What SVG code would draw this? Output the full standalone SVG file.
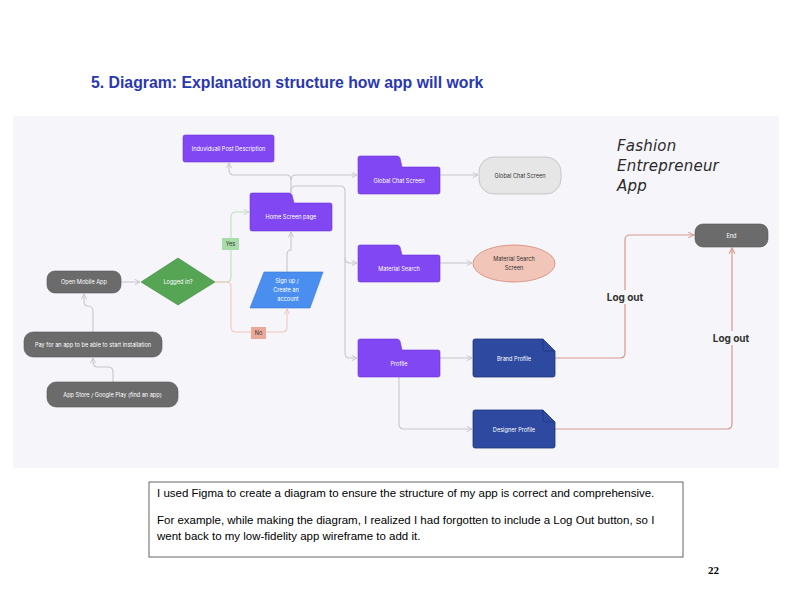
<svg xmlns="http://www.w3.org/2000/svg" width="792" height="612" viewBox="0 0 792 612">
<defs>
<style>
.t{font-family:Inter,"Liberation Sans",sans-serif;font-size:5.6px;fill:#fff;text-anchor:middle;dominant-baseline:central}
.td{font-family:Inter,"Liberation Sans",sans-serif;font-size:5.6px;fill:#333;text-anchor:middle;dominant-baseline:central}
.purple{fill:#8047f2;stroke:#6d38d8;stroke-width:0.6}
.gray{fill:#6b6b6b;stroke:#555;stroke-width:0.6}
.doc{fill:#2d49a0;stroke:#1f357c;stroke-width:0.8}
.c{fill:none;stroke:#c9c6cc;stroke-width:1.1}
.cg{fill:none;stroke:#bfe0bf;stroke-width:1.1}
.cp{fill:none;stroke:#f0c6bd;stroke-width:1.1}
.cr{fill:none;stroke:#d59a8e;stroke-width:1.2}
.lo{font-family:Inter,"Liberation Sans",sans-serif;font-size:10px;font-weight:bold;fill:#333;text-anchor:middle;dominant-baseline:central}
.body{font-family:"Liberation Sans",Arial,sans-serif;font-size:11.5px;fill:#000}
</style>
<marker id="a" viewBox="0 0 10 10" refX="9" refY="5" markerWidth="6" markerHeight="6" orient="auto"><path d="M1,1 L9,5 L1,9" fill="none" stroke="#c9c6cc" stroke-width="1.5"/></marker>
<marker id="ag" viewBox="0 0 10 10" refX="9" refY="5" markerWidth="6" markerHeight="6" orient="auto"><path d="M1,1 L9,5 L1,9" fill="none" stroke="#bfe0bf" stroke-width="1.5"/></marker>
<marker id="ap" viewBox="0 0 10 10" refX="9" refY="5" markerWidth="6" markerHeight="6" orient="auto"><path d="M1,1 L9,5 L1,9" fill="none" stroke="#f0c6bd" stroke-width="1.5"/></marker>
<marker id="ar" viewBox="0 0 10 10" refX="9" refY="5" markerWidth="6" markerHeight="6" orient="auto"><path d="M1,1 L9,5 L1,9" fill="none" stroke="#d59a8e" stroke-width="1.5"/></marker>
</defs>
<rect width="792" height="612" fill="#fff"/>
<text x="91" y="88" font-family="'Liberation Sans',Arial,sans-serif" font-size="15.8" font-weight="bold" fill="#2a37b0">5. Diagram: Explanation structure how app will work</text>
<rect x="13" y="116" width="766" height="352" rx="3" fill="#f6f5fa"/>

<g id="connectors">
<path class="c" d="M113,382 V372 Q113,367 108,367 H98 Q93,367 93,362 V358" marker-end="url(#a)"/>
<path class="c" d="M93,332 V312 Q93,306 88,306 Q84,306 84,301 V294" marker-end="url(#a)"/>
<path class="c" d="M121,282 H140" marker-end="url(#a)"/>
<path class="cg" d="M215,282 H226 Q231,282 231,277 V217 Q231,212 236,212 H249" marker-end="url(#ag)"/>
<path class="cp" d="M215,282 H226 Q231,282 231,287 V327 Q231,332 236,332 H282 Q287,332 287,327 V309" marker-end="url(#ap)"/>
<path class="c" d="M287,272 V255 Q287,250 291,250 V232" marker-end="url(#a)"/>
<path class="c" d="M291,193 V180 Q291,175 286,175 H234 Q229,175 229,170 V163" marker-end="url(#a)"/>
<path class="c" d="M291,180 Q291,175 296,175 H357" marker-end="url(#a)"/>
<path class="c" d="M291,193 V191 Q291,186 296,186 H340 Q345,186 345,191 V258 Q345,263 350,263 H357" marker-end="url(#a)"/>
<path class="c" d="M345,258 V353 Q345,358 350,358 H357" marker-end="url(#a)"/>
<path class="c" d="M440,175 H478" marker-end="url(#a)"/>
<path class="c" d="M440,263 H472" marker-end="url(#a)"/>
<path class="c" d="M440,358 H472" marker-end="url(#a)"/>
<path class="c" d="M399,377 V424 Q399,429 404,429 H472" marker-end="url(#a)"/>
<path class="cr" d="M555,358 H620 Q625,358 625,353 V240 Q625,235 630,235 H694" marker-end="url(#ar)"/>
<path class="cr" d="M555,429 H727 Q732,429 732,424 V248" marker-end="url(#ar)"/>
<rect x="222" y="238" width="17" height="12" fill="#a9dca9"/>
<text class="td" x="230.5" y="244">Yes</text>
<rect x="251" y="327" width="15" height="12" fill="#eba99a"/>
<text class="td" x="258.5" y="333">No</text>
<rect x="606" y="290" width="38" height="14" fill="#f6f5fa"/>
<text class="lo" x="625" y="297">Log out</text>
<rect x="712" y="331" width="40" height="14" fill="#f6f5fa"/>
<text class="lo" x="731" y="338">Log out</text>
</g>

<g id="post"><rect class="purple" x="183" y="135" width="91" height="27" rx="2"/><text class="t" x="228.5" y="148.5">Induviduall Post Description</text></g>
<g id="home"><path class="purple" d="M250,205 V195 Q250,193 252,193 H289 Q291,193 292,195 L294,203 H330 Q332,203 332,205 V229 Q332,231 330,231 H252 Q250,231 250,229 Z"/><text class="t" x="291" y="217">Home Screen page</text></g>
<g id="chatfolder"><path class="purple" d="M358,169 V158 Q358,156 360,156 H397 Q399,156 400,158 L402,167 H438 Q440,167 440,169 V192 Q440,194 438,194 H360 Q358,194 358,192 Z"/><text class="t" x="399" y="181">Global Chat Screen</text></g>
<g id="chatscreen"><rect x="479" y="157" width="82" height="37" rx="15" fill="#e6e6e6" stroke="#bdbdbd" stroke-width="0.8"/><text class="td" x="520" y="175.5">Global Chat Screen</text></g>
<g id="materialfolder"><path class="purple" d="M358,257 V247 Q358,245 360,245 H397 Q399,245 400,247 L402,255 H438 Q440,255 440,257 V280 Q440,282 438,282 H360 Q358,282 358,280 Z"/><text class="t" x="399" y="269">Material Search</text></g>
<g id="materialscreen"><ellipse cx="514" cy="263.5" rx="41" ry="18.5" fill="#f2c5b9" stroke="#d8907f" stroke-width="0.9"/><text class="td" x="514" y="259">Material Search</text><text class="td" x="514" y="268">Screen</text></g>
<g id="profile"><path class="purple" d="M358,352 V341 Q358,339 360,339 H397 Q399,339 400,341 L402,350 H438 Q440,350 440,352 V375 Q440,377 438,377 H360 Q358,377 358,375 Z"/><text class="t" x="399" y="364">Profile</text></g>
<g id="brand"><path class="doc" d="M473,341 Q473,339 475,339 H543 L555,351 V375 Q555,377 553,377 H475 Q473,377 473,375 Z"/><path d="M543,339 V349 Q543,351 545,351 H555" fill="none" stroke="#1f357c" stroke-width="0.8"/><text class="t" x="514" y="359">Brand Profile</text></g>
<g id="designer"><path class="doc" d="M473,412 Q473,410 475,410 H543 L555,422 V446 Q555,448 553,448 H475 Q473,448 473,446 Z"/><path d="M543,410 V420 Q543,422 545,422 H555" fill="none" stroke="#1f357c" stroke-width="0.8"/><text class="t" x="514" y="430">Designer Profile</text></g>
<g id="end"><rect class="gray" x="695" y="224" width="73" height="23" rx="8"/><text class="t" x="731.5" y="235.5">End</text></g>
<g id="open"><rect class="gray" x="47" y="271" width="74" height="22" rx="8"/><text class="t" x="84" y="282">Open Mobile App</text></g>
<g id="logged"><polygon points="178,258 215,282 178,305 141,282" fill="#55a555" stroke="#3f8a3f" stroke-width="0.6"/><text class="t" x="178" y="282">Logged in?</text></g>
<g id="signup"><polygon points="264,272 323,272 310,308 250,308" fill="#4a8ff0" stroke="#3a74d0" stroke-width="0.6"/><text class="t" x="287" y="281">Sign up /</text><text class="t" x="286" y="290">Create an</text><text class="t" x="288" y="299">account</text></g>
<g id="pay"><rect class="gray" x="24" y="332" width="138" height="25" rx="9"/><text class="t" x="93" y="344.5">Pay for an app to be able to start installation</text></g>
<g id="store"><rect class="gray" x="47" y="382" width="131" height="25" rx="9"/><text class="t" x="112.5" y="394.5">App Store / Google Play (find an app)</text></g>

<g id="apptitle" font-family="'DejaVu Sans',sans-serif" font-size="15" font-style="italic" fill="#2b2b2b" letter-spacing="0.2">
<text x="617" y="151">Fashion</text>
<text x="617" y="171">Entrepreneur</text>
<text x="617" y="191">App</text>
</g>

<g id="note">
<rect x="149" y="482" width="534" height="75" fill="#fff" stroke="#555" stroke-width="0.9"/>
<text class="body" x="157" y="497">I used Figma to create a diagram to ensure the structure of my app is correct and comprehensive.</text>
<text class="body" x="157" y="524">For example, while making the diagram, I realized I had forgotten to include a Log Out button, so I</text>
<text class="body" x="157" y="540">went back to my low-fidelity app wireframe to add it.</text>
</g>
<text x="708" y="574" font-family="'Liberation Serif',serif" font-size="11" font-weight="bold" fill="#000">22</text>
</svg>
